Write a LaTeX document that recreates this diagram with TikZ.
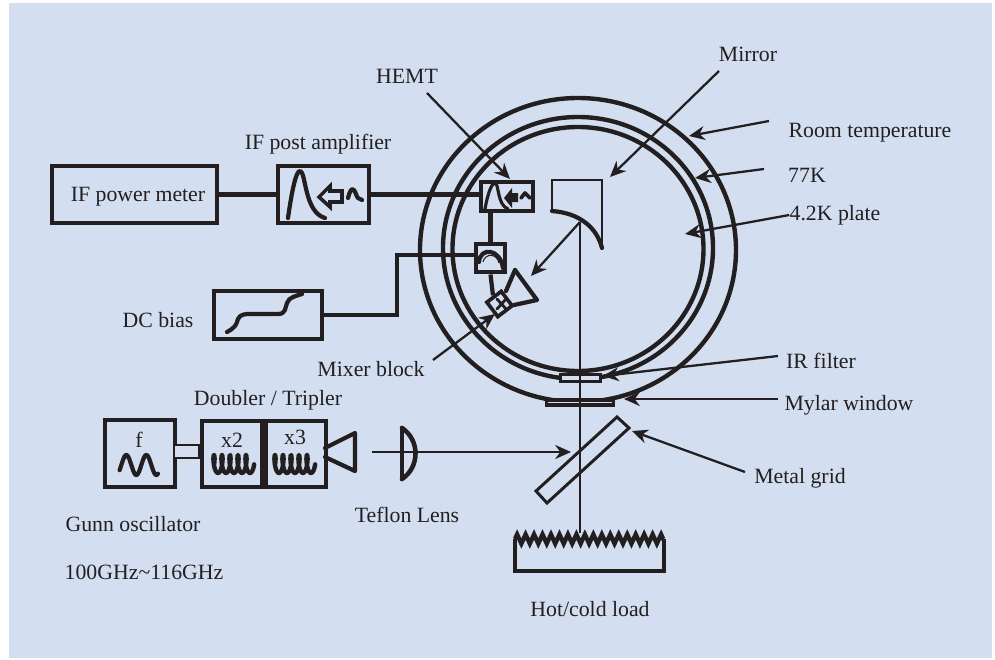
\documentclass[tikz,border=0pt]{standalone}
\usepackage{fontspec}
\setmainfont{Liberation Serif}
\usetikzlibrary{arrows.meta,positioning,calc,decorations.pathmorphing}
\definecolor{panel}{RGB}{211,223,241}
\definecolor{ink}{RGB}{35,31,32}

\begin{document}
\begin{tikzpicture}[
  x=0.2mm,y=-0.2mm,
  box/.style={draw=ink,line width=2.8pt,inner sep=0pt},
  wire/.style={draw=ink,line width=2.4pt},
  ring/.style={draw=ink,line width=2.5pt},
  thin line/.style={draw=ink,line width=1.3pt},
  glyph/.style={draw=ink,line width=2.4pt,line cap=round,line join=round},
  arr/.style={draw=ink,-{Stealth[length=9pt,width=8pt]},line width=1.3pt},
  lbl/.style={text=ink,inner sep=0pt,font=\fontsize{12.4}{14}\selectfont}
]
\useasboundingbox (0,0) rectangle (995,660);
\fill[panel] (9,3) rectangle (992,658);

% cryostat shields
\draw[ring] (578,250) ellipse [x radius=158,y radius=152];
\draw[ring] (578,248) ellipse [x radius=135,y radius=131];
\draw[ring] (578,249) ellipse [x radius=125.5,y radius=122];

% back end boxes
\node[box,minimum width=3.3cm,minimum height=1.14cm] (meter) at (134.5,194.5) {};
\node[box,minimum width=1.82cm,minimum height=1.14cm] (postamp) at (323.5,194.5) {};
\node[box,minimum width=1.04cm,minimum height=0.58cm,fill=panel] (hemt) at (507,196.5) {};
\node[box,minimum width=0.58cm,minimum height=0.56cm,fill=panel] (tee) at (490.5,258) {};
\node[box,minimum width=2.16cm,minimum height=0.96cm] (bias) at (268,315) {};
\node[box,rotate=37,minimum size=0.36cm,line width=2.1pt] (mixer) at (499.5,304) {};

\coordinate (bend) at (397,255);
\draw[wire] (meter.east) -- (postamp.west);
\draw[wire] (postamp.east) -- (postamp.east -| hemt.west);
\draw[wire] (hemt.south -| tee.north) -- (tee.north);
\draw[wire] (bias.east) -| (bend) -- (bend -| tee.west);
\draw[wire] (tee.south) -- (mixer.north);

% source chain
\node[box,minimum width=1.4cm,minimum height=1.34cm] (gunn) at (140,453.5) {};
\node[box,minimum width=1.2cm,minimum height=1.32cm] (xtwo) at (232,454) {};
\node[box,minimum width=1.2cm,minimum height=1.32cm] (xthree) at (296,454) {};
\node[draw=ink,line width=1.3pt,fill=panel,inner sep=0pt,minimum width=0.5cm,minimum height=0.26cm] (guide) at (186.5,451.5) {};

% load
\coordinate (loadleft) at (515,539);
\coordinate (loadright) at (664,539);
\draw[ring,line join=miter] (loadleft) -- (515,571) -- (664,571) -- (loadright);
\draw[ring,decorate,decoration={zigzag,segment length=4.82pt,amplitude=2.6pt}] (loadleft) -- (loadright);

% optics
\draw[glyph] (325,448) -- (355,433) -- (355,471) -- (325,457);
\draw[glyph,line width=2.6pt] (402,428) -- (402,479);
\draw[glyph,line width=2.6pt] (402,428) .. controls (420,440) and (420,467) .. (402,479);
\draw[thin line,line width=1.7pt,line join=miter] (617,417) -- (629,428) -- (547,503) -- (536,491) -- cycle;
\draw[thin line] (552,211) -- (552,180) -- (602,180) -- (602,248);
\draw[glyph] (552,211) .. controls (580,213) and (597,228) .. (602,248);
\draw[glyph] (515,270) -- (537,300) -- (514,305);
\draw[glyph] (506,291) -- (515,270);

% window and filter
\node[draw=ink,line width=1.7pt,fill=panel,inner sep=0pt,minimum width=0.8cm,minimum height=0.15cm] (filter) at (580.5,378) {};
\node[draw=ink,line width=2.2pt,fill=panel,inner sep=0pt,minimum width=1.34cm,minimum height=0.115cm] (mylar) at (580,402.5) {};

% beam
\coordinate (mirrorpt) at (580,222);
\coordinate (loadpt) at (580,533);
\draw[thin line] (mirrorpt) -- (loadpt);

% waves in the boxes
\draw[glyph] plot[domain=0.04:1,samples=60,smooth] ({118+40*\x},{465-10*sin(720*\x-60)});
\foreach \cx in {212,273}
  \draw[glyph,line width=2.5pt] plot[domain=0:1,samples=120,smooth] ({\cx+40*\x+2.2*cos(1800*\x)},{464-9*sin(1800*\x)});

% post amplifier signs
\draw[glyph] (288,218) .. controls (292,190) and (296,171) .. (300,171) .. controls (306,171) and (304,212) .. (325,218);
\draw[glyph,line width=2pt,line cap=butt,line join=miter] (319,197) -- (330,186) -- (330,191) -- (342,191) -- (342,202) -- (330,202) -- (330,207) -- cycle;
\draw[glyph] (348,198) .. controls (351,186) and (354,188) .. (356,194) .. controls (357,198) and (359,199) .. (362,200);

% hemt signs
\draw[glyph,line width=1.8pt] (485,209) .. controls (488,192) and (492,183) .. (495,183) .. controls (499,183) and (497,205) .. (508,209);
\fill[ink] (504,198) -- (512,188) -- (512,193) -- (518,193) -- (518,202) -- (512,202) -- (512,208) -- cycle;
\draw[glyph,line width=2.1pt] (521,198) -- (525,193) -- (530,198);

% dc bias sign
\draw[glyph] (227,332) .. controls (236,327) and (236,325) .. (238,319) .. controls (240,314) and (246,314) .. (250,314) -- (278,314) .. controls (286,314) and (285,308) .. (287,303) .. controls (289,297) and (296,296) .. (302,294);

% tee and mixer signs
\draw[glyph] (479,262) .. controls (480,247) and (500,248) .. (503,268);
\draw[ink,line width=0.6pt] (483,262) .. controls (485,253) and (497,253) .. (499,263);
\draw[glyph,line width=1.6pt] (497,299) -- (506,309) (506,299) -- (497,309);

% leader arrows
\coordinate (mirrorfrom) at (719,71);
\coordinate (mirrorto) at (610,177);
\coordinate (roomfrom) at (769,121);
\coordinate (roomto) at (689,136);
\coordinate (nitrofrom) at (764,169);
\coordinate (nitroto) at (695,178);
\coordinate (plateto) at (685,234);
\coordinate (hemtfrom) at (427,93);
\coordinate (hemtto) at (510,179);
\coordinate (hornto) at (531,276);
\coordinate (mixerfrom) at (433,360);
\coordinate (mixerto) at (495,314);
\coordinate (filterfrom) at (778,356);
\coordinate (filterto) at (603,376);
\coordinate (mylarfrom) at (778,399);
\coordinate (mylarto) at (624,399);
\coordinate (gridfrom) at (745,472);
\coordinate (gridto) at (632,431);
\coordinate (lensfrom) at (372,452);
\coordinate (lensto) at (571,452);

\draw[arr] (mirrorfrom) -- (mirrorto);
\draw[arr] (roomfrom) -- (roomto);
\draw[arr] (nitrofrom) -- (nitroto);
\draw[arr] (hemtfrom) -- (hemtto);
\draw[arr] (mirrorpt) -- (hornto);
\draw[arr] (mixerfrom) -- (mixerto);
\draw[arr] (filterfrom) -- (filterto);
\draw[arr] (mylarfrom) -- (mylarto);
\draw[arr] (gridfrom) -- (gridto);
\draw[arr] (lensfrom) -- (lensto);

% labels
\node[lbl] (mirrorlbl) at (748,54) {Mirror};
\node[lbl] (hemtlbl) at (407,76) {HEMT};
\node[lbl] (postlbl) at (318,144) {IF post amplifier};
\node[lbl] (roomlbl) at (870,133) {Room temperature};
\node[lbl] (nitrolbl) at (807,175) {77K};
\node[lbl] (platelbl) at (835,215) {4.2K plate};
\node[lbl] (meterlbl) at (138,197) {IF power meter};
\node[lbl] (biaslbl) at (158,320) {DC bias};
\node[lbl] (mixerlbl) at (371,369) {Mixer block};
\node[lbl] (filterlbl) at (821,361) {IR filter};
\node[lbl] (mylarlbl) at (849,405) {Mylar window};
\node[lbl] (gridlbl) at (800,478) {Metal grid};
\node[lbl] (doublerlbl) at (268,400) {Doubler / Tripler};
\node[lbl] (flbl) at (139,440) {f};
\node[lbl] (xtwolbl) at (232,440) {x2};
\node[lbl] (xthreelbl) at (295,437) {x3};
\node[lbl] (gunnlbl) at (133,524) {Gunn oscillator};
\node[lbl] (freqlbl) at (144,572) {100GHz\textasciitilde 116GHz};
\node[lbl] (lenslbl) at (407,515) {Teflon Lens};
\node[lbl] (loadlbl) at (590,609) {Hot/cold load};

\draw[arr] (platelbl.west) -- (plateto);
\end{tikzpicture}
\end{document}
